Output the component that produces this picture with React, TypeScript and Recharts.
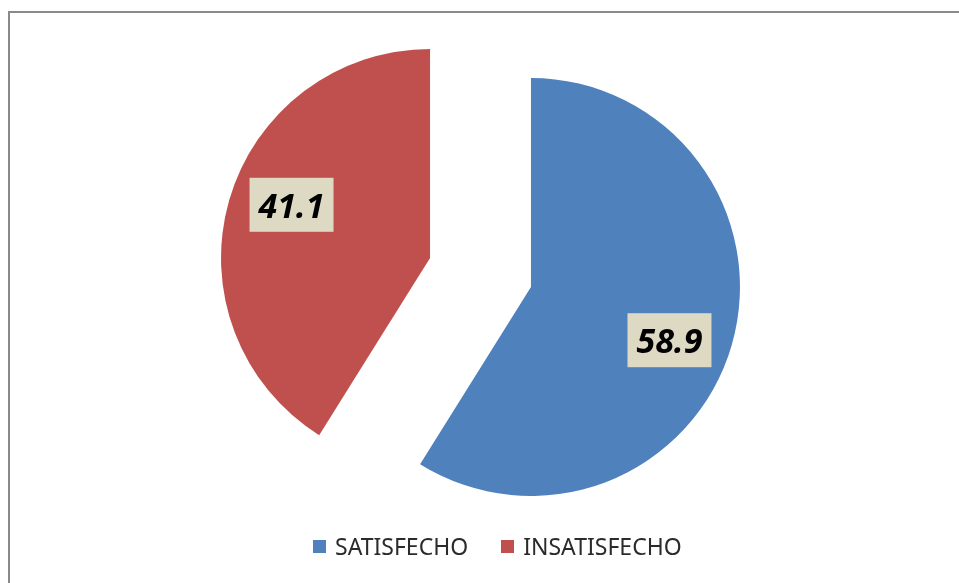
import React from "react";
import { PieChart, Pie, Cell, Legend } from "recharts";

const categories = ["SATISFECHO", "INSATISFECHO"];
const values = [58.9, 41.1];
const colors = ["#4F81BD", "#C0504D"];

const W = 943;
const H = 567;
const CX = 472.5;
const CY = 264.5;
const R = 209;
const EXPLODE = 52.5;
const RADIAN = Math.PI / 180;

const data = categories.map((name, i) => ({ name, value: values[i] }));
const total = values.reduce((a, b) => a + b, 0);

// mid angle of each slice (clockwise from 12 o'clock), used to push slices apart
const offsets = (() => {
  let cum = 0;
  return values.map((v) => {
    const span = (v / total) * 360;
    const mid = 90 - (cum + span / 2);
    cum += span;
    return { dx: EXPLODE * Math.cos(mid * RADIAN), dy: -EXPLODE * Math.sin(mid * RADIAN) };
  });
})();

function makeLabel(only: number) {
  return (props: any) => {
    const { cx, cy, midAngle, outerRadius, index, value } = props;
    if (index !== only) return null;
    const a = (midAngle - 5) * RADIAN;
    const r = outerRadius * 0.71;
    const x = cx + r * Math.cos(-a);
    const y = cy + r * Math.sin(-a);
    return (
      <g>
        <rect x={x - 42} y={y - 27} width={84} height={54} fill="#DDD9C3" />
        <text
          x={x}
          y={y}
          textAnchor="middle"
          dominantBaseline="central"
          fontFamily="'Noto Sans', sans-serif"
          fontWeight="bold"
          fontStyle="italic"
          fontSize={34}
          fill="#000"
        >
          {value.toFixed(1)}
        </text>
      </g>
    );
  };
}

function LegendContent() {
  return (
    <div style={{ display: "flex", alignItems: "center", gap: 33, paddingLeft: 305 }}>
      {categories.map((c, i) => (
        <div key={c} style={{ display: "flex", alignItems: "center" }}>
          <span style={{ width: 13, height: 13, background: colors[i], display: "inline-block", marginRight: 9 }} />
          <span style={{ fontFamily: "'Noto Sans', sans-serif", fontSize: 23, color: "#2b2b2b", lineHeight: "24px" }}>{c}</span>
        </div>
      ))}
    </div>
  );
}

export default function App() {
  return (
    <div style={{ position: "relative", width: W, height: H, background: "#fff" }}>
      <div
        style={{
          position: "fixed",
          left: 8,
          top: 11,
          right: -20,
          bottom: -20,
          border: "2px solid #8a8a8a",
          pointerEvents: "none",
        }}
      />
      <div style={{ position: "absolute", left: 0, top: 0 }}>
        <PieChart width={W} height={H} margin={{ top: 0, right: 0, bottom: 0, left: 0 }}>
          {categories.map((c, i) => (
            <Pie
              key={c}
              data={data}
              dataKey="value"
              nameKey="name"
              cx={CX + offsets[i].dx}
              cy={CY + offsets[i].dy}
              outerRadius={R}
              startAngle={90}
              endAngle={-270}
              stroke="none"
              label={makeLabel(i)}
              labelLine={false}
              isAnimationActive={false}
            >
              {data.map((d, j) => (
                <Cell key={d.name} fill={j === i ? colors[j] : "transparent"} />
              ))}
            </Pie>
          ))}
          <Legend
            content={<LegendContent />}
            wrapperStyle={{ position: "absolute", top: 526, left: 0, width: W }}
          />
        </PieChart>
      </div>
    </div>
  );
}
